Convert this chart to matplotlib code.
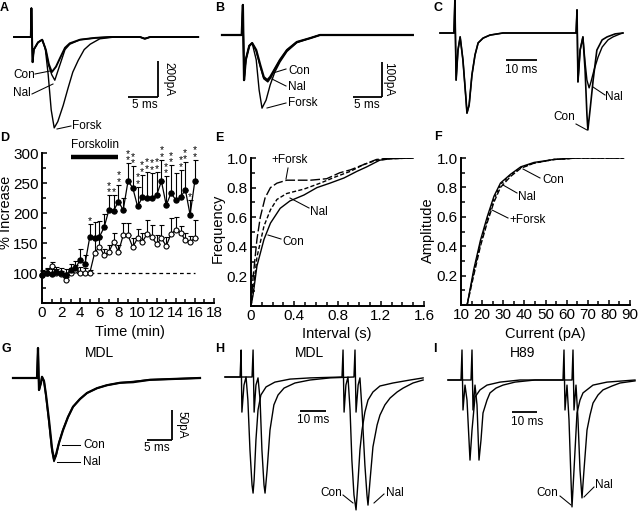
"""
Forskolin / naloxone EPSC figure - panels A-I
Traces in ms / pA, read off the published figure.
"""

import matplotlib
matplotlib.use('Agg')
import matplotlib.pyplot as plt
from matplotlib.lines import Line2D
from matplotlib.transforms import Affine2D
from matplotlib.ticker import MultipleLocator

plt.rcParams['font.family'] = ['Liberation Sans', 'DejaVu Sans']

W, H = 640, 511

# === A: evoked EPSCs, Con / Nal / Forsk ===
a_con_t = [0, 2.8, 2.9, 3.1, 3.3, 4.0, 4.7, 5.3, 5.8, 6.3, 7.0, 7.7, 8.5, 9.3, 11.0, 13.5, 16.0, 21.0, 21.8, 22.7, 30.7]
a_con_i = [0, 0, 160, -140, -70, -30, -15, -70, -150, -195, -165, -115, -60, -35, -15, -5, 0, 0, -10, 0, 0]
a_nal_t = [0, 2.8, 2.9, 3.1, 3.3, 4.0, 4.7, 5.3, 5.8, 6.3, 6.8, 7.3, 8.0, 8.5, 9.3, 11.0, 13.5, 16.0, 21.0, 21.8, 22.7, 30.7]
a_nal_i = [0, 0, 160, -140, -70, -30, -15, -75, -160, -210, -240, -190, -120, -70, -40, -15, -5, 0, 0, -8, 0, 0]
a_fsk_t = [0, 2.8, 2.9, 3.1, 3.3, 4.0, 4.7, 5.2, 5.7, 6.2, 6.7, 7.3, 8.2, 9.0, 9.8, 10.7, 11.7, 12.7, 14.3, 16.8, 21.0, 21.8, 22.7, 30.7]
a_fsk_i = [0, 0, 160, -140, -70, -30, -15, -60, -210, -405, -505, -470, -380, -285, -195, -130, -70, -40, -10, 0, 0, -10, 0, 0]

# === B ===
b_con_t = [0, 3.4, 3.6, 3.8, 4.1, 4.7, 5.2, 5.9, 6.6, 7.2, 7.8, 8.3, 9.0, 10.0, 11.2, 12.9, 15.2, 16.9, 32.9]
b_con_i = [0, 0, 86, -129, -71, -31, -23, -43, -86, -120, -129, -120, -100, -71, -43, -20, -9, 0, 0]
b_nal_t = [0, 3.4, 3.6, 3.8, 4.1, 4.7, 5.2, 5.9, 6.6, 7.2, 7.9, 8.5, 9.0, 10.0, 11.2, 12.9, 15.2, 16.9, 32.9]
b_nal_i = [0, 0, 86, -129, -71, -31, -23, -45, -90, -125, -134, -120, -100, -71, -43, -20, -9, 0, 0]
b_fsk_t = [0, 3.4, 3.6, 3.8, 4.1, 4.7, 5.2, 5.9, 6.4, 6.9, 7.6, 8.3, 9.1, 10.0, 11.2, 12.9, 15.2, 16.9, 32.9]
b_fsk_i = [0, 0, 86, -129, -71, -31, -23, -71, -157, -209, -186, -143, -106, -77, -47, -22, -9, 0, 0]

# === C: paired pulse ===
c_con_t = [0, 4.5, 4.8, 5.2, 5.8, 6.5, 7.4, 8.4, 8.7, 9.4, 10.3, 11.3, 12.3, 13.9, 16.1, 20.3,
           43.9, 44.2, 44.5, 45.2, 46.1, 46.8, 47.4, 47.7, 48.4, 49.4, 50.6, 52.3, 53.9, 56.5, 59.0]
c_con_i = [0, 0, 110, -157, -57, -13, -90, -223, -267, -240, -140, -73, -33, -17, -7, 0,
           0, 77, -163, -57, -13, -123, -273, -323, -257, -157, -57, -23, -13, -3, 0]
c_nal_t = [0, 4.5, 4.8, 5.2, 5.8, 6.5, 7.4, 8.4, 8.7, 9.4, 10.3, 11.3, 12.3, 13.9, 16.1, 20.3,
           43.9, 44.2, 44.5, 45.2, 46.1, 46.8, 47.4, 48.1, 48.7, 49.7, 51.0, 52.3, 54.2, 55.8, 58.1, 59.0]
c_nal_i = [0, 0, 110, -157, -57, -13, -90, -223, -267, -240, -140, -73, -33, -17, -7, 0,
           0, 77, -163, -57, -13, -97, -157, -183, -163, -123, -80, -47, -23, -13, -3, 0]

# === D: time course (% increase) ===
d_time = [0, 0.5, 1, 1.5, 2, 2.5, 3, 3.5, 4, 4.5, 5, 5.5, 6, 6.5, 7, 7.5, 8, 8.5,
          9, 9.5, 10, 10.5, 11, 11.5, 12, 12.5, 13, 13.5, 14, 14.5, 15, 15.5, 16]
d_fsk = [97, 100, 98, 102, 100, 97, 105, 108, 122, 115, 160, 158, 160, 176, 205, 204, 219, 205,
         253, 242, 211, 226, 225, 225, 230, 253, 213, 233, 222, 226, 239, 197, 254]
d_fsk_err = [8, 8, 8, 8, 8, 10, 10, 12, 18, 15, 22, 27, 27, 22, 25, 26, 28, 20,
             30, 36, 33, 38, 44, 42, 39, 36, 48, 47, 45, 46, 46, 25, 35]
d_nal = [97, 100, 112, 100, 98, 88, 100, 105, 100, 100, 100, 133, 144, 130, 135, 152, 135, 163,
         163, 143, 158, 152, 165, 160, 148, 158, 145, 165, 172, 167, 155, 152, 158]
d_nal_err = [6, 6, 6, 6, 6, 6, 8, 8, 10, 8, 5, 22, 17, 10, 12, 15, 12, 20,
             20, 15, 16, 15, 23, 20, 15, 22, 15, 26, 22, 12, 12, 10, 30]
d_stars = ['', '', '', '', '', '', '', '', '', '', '*', '', '', '', '**', '*', '**', '',
           '**', '**', '**', '**', '**', '**', '**', '**', '**', '**', '', '**', '**', '*', '**']
forskolin_on = [3, 8]

# === E: cumulative inter-event interval ===
e_fsk_x = [0, 0.02, 0.055, 0.086, 0.13, 0.18, 0.24, 0.33, 0.55, 0.7, 0.82, 0.92, 1.04, 1.16, 1.29, 1.5]
e_fsk_y = [0, 0.2, 0.45, 0.6, 0.73, 0.8, 0.83, 0.85, 0.85, 0.86, 0.9, 0.92, 0.955, 0.99, 1.0, 1.0]
e_nal_x = [0, 0.02, 0.055, 0.12, 0.18, 0.24, 0.33, 0.49, 0.64, 0.79, 0.92, 1.04, 1.16, 1.29, 1.5]
e_nal_y = [0, 0.1, 0.33, 0.54, 0.65, 0.72, 0.76, 0.79, 0.83, 0.875, 0.91, 0.955, 0.985, 0.995, 1.0]
e_con_x = [0, 0.02, 0.055, 0.12, 0.18, 0.27, 0.36, 0.49, 0.61, 0.73, 0.86, 0.98, 1.07, 1.19, 1.29, 1.5]
e_con_y = [0, 0.08, 0.27, 0.45, 0.56, 0.66, 0.71, 0.75, 0.8, 0.83, 0.865, 0.91, 0.94, 0.985, 0.995, 1.0]

# === F: cumulative amplitude ===
f_x = [12.9, 16, 19.2, 22.4, 25.6, 28.7, 33.5, 38.3, 44.6, 54, 65, 87]
f_con_y = [0, 0.24, 0.44, 0.6, 0.74, 0.83, 0.89, 0.94, 0.97, 0.99, 1.0, 1.0]
f_nal_y = [0, 0.22, 0.42, 0.58, 0.72, 0.82, 0.885, 0.935, 0.965, 0.99, 1.0, 1.0]
f_fsk_y = [0, 0.2, 0.4, 0.56, 0.7, 0.8, 0.875, 0.93, 0.965, 0.99, 1.0, 1.0]

# === G: MDL ===
g_t = [0, 4.8, 5.0, 5.2, 5.6, 5.8, 6.2, 6.6, 7.2, 7.8, 8.2, 8.6, 9.2, 10.0, 11.0, 12.0, 13.4, 14.8,
       16.8, 18.8, 21.4, 24.0, 27.4, 30.8, 37.4]
g_con_i = [0, 0, 50, -20, -8, 2, -5, -28, -70, -117, -135, -128, -108, -87, -65, -48, -35, -25,
           -17, -12, -8, -7, -3, -2, 0]
g_nal_i = [0, 0, 50, -20, -8, 2, -5, -30, -74, -122, -139, -130, -108, -86, -65, -48, -35, -25,
           -17, -12, -8, -6, -3, -2, 0]

# === H: MDL paired pulse ===
h_con_t = [0, 5.8, 6.2, 6.5, 7.3, 8.1, 8.8, 9.6, 10.4, 10.8, 11.2, 11.9, 12.7, 13.8, 15.8, 19.2, 25.0, 32.7,
           45.0, 45.4, 45.8, 46.5, 47.3, 48.1, 48.8, 49.6, 50.4, 51.2, 51.9, 52.7, 53.8, 55.0, 56.9, 59.6, 64.6, 71.2, 76.2]
h_con_i = [0, 0, 90, -117, -27, 0, -77, -243, -360, -387, -343, -210, -110, -60, -33, -17, -7, -3,
           0, 90, -117, -27, 0, -110, -277, -393, -443, -343, -243, -177, -117, -77, -50, -30, -20, -10, -3]
h_nal_t = [0, 10.4, 10.8, 11.2, 11.9, 12.7, 13.5, 14.2, 15.0, 15.4, 16.2, 17.3, 18.8, 20.4, 22.7, 26.9, 32.7, 40.4,
           49.6, 50.0, 50.4, 51.2, 51.9, 52.7, 53.8, 54.6, 55.0, 55.8, 56.9, 58.5, 59.6, 61.5, 63.5, 66.2, 68.5, 72.3, 76.2]
h_nal_i = [0, 0, 90, -117, -27, -3, -77, -243, -360, -387, -310, -177, -93, -60, -37, -20, -10, -3,
           0, 90, -117, -27, -3, -110, -293, -393, -427, -343, -233, -160, -127, -93, -70, -50, -37, -20, -10]

# === I: H89 paired pulse ===
i_con_t = [0, 5.2, 5.6, 6.0, 6.8, 7.6, 8.4, 8.8, 9.6, 10.8, 12.8, 15.6, 20.8, 28.8,
           46.0, 46.4, 46.8, 47.6, 48.4, 49.2, 49.6, 50.4, 51.6, 52.8, 54.0, 58.0, 63.6, 74.8]
i_con_i = [0, 0, 100, -100, -17, -67, -200, -267, -167, -57, -33, -17, -7, 0,
           0, 100, -100, -17, -133, -333, -423, -300, -110, -67, -43, -17, -7, 0]
i_nal_t = [0, 9.2, 9.6, 10.0, 10.8, 11.6, 12.4, 13.2, 14.0, 15.6, 16.8, 19.2, 22.0, 26.8, 34.8,
           49.6, 50.0, 50.4, 51.2, 52.0, 52.8, 53.6, 54.4, 55.6, 56.8, 58.0, 60.0, 62.0, 65.6, 68.8, 74.8]
i_nal_i = [0, 0, 100, -100, -17, -83, -267, -200, -110, -67, -43, -27, -17, -7, 0,
           0, 100, -100, -17, -133, -300, -393, -300, -167, -117, -77, -50, -33, -20, -10, -3]


fig = plt.figure(figsize=(W / 100, H / 100), dpi=100)
# pixel coordinates, origin top-left (used for labels / leaders only)
PX = Affine2D().scale(1 / W, -1 / H).translate(0, 1) + fig.transFigure

LBL = 8.5
TICK = 11
AXLBL = 10.5


def axes_px(x0, y0, x1, y1):
    return fig.add_axes([x0 / W, 1 - y1 / H, (x1 - x0) / W, (y1 - y0) / H])


def trace_axes(box, t0_px, base_px, px_ms, px_pa):
    x0, y0, x1, y1 = box
    ax = axes_px(*box)
    ax.set_xlim((x0 - t0_px) / px_ms, (x1 - t0_px) / px_ms)
    ax.set_ylim(-(y1 - base_px) / px_pa, -(y0 - base_px) / px_pa)
    ax.axis('off')
    return ax


def trace(ax, t, i, lw=1.0):
    ax.plot(t, i, color='k', lw=lw, clip_on=False, solid_joinstyle='round')


def scalebar(ax, t_right, i_bottom, dt, di=None):
    ax.plot([t_right - dt, t_right], [i_bottom, i_bottom], color='k', lw=1.3,
            solid_capstyle='butt', clip_on=False)
    if di:
        ax.plot([t_right, t_right], [i_bottom, i_bottom + di], color='k', lw=1.3,
                solid_capstyle='butt', clip_on=False)


def text(x, y, s, size=LBL, **kw):
    kw.setdefault('va', 'center')
    fig.text(x, y, s, transform=PX, fontsize=size, **kw)


def leader(x0, y0, x1, y1):
    fig.add_artist(Line2D([x0, x1], [y0, y1], transform=PX, color='k', lw=0.75))


def style_axes(ax):
    for side in ('top', 'right'):
        ax.spines[side].set_visible(False)
    for side in ('left', 'bottom'):
        ax.spines[side].set_linewidth(1.4)
    ax.tick_params(which='both', direction='in', width=1.1, labelsize=TICK, pad=2.5)
    ax.tick_params(which='major', length=3.5)
    ax.tick_params(which='minor', length=3)


# ---- panel letters ----
for s, x, y in [('A', 0, 8), ('B', 215, 8), ('C', 434, 8), ('D', 0, 138), ('E', 215, 138),
                ('F', 434, 137), ('G', 2, 349), ('H', 215, 349), ('I', 433, 349)]:
    text(x, y, s, size=9, weight='bold')

# ---- A ----
ax = trace_axes((10, 0, 205, 135), 14, 37, 6.0, 0.18)
trace(ax, a_fsk_t, a_fsk_i)
trace(ax, a_nal_t, a_nal_i)
trace(ax, a_con_t, a_con_i, lw=1.4)
scalebar(ax, 24, -333, 5, 200)
text(145, 105, '5 ms', ha='center')
text(168, 79, '200pA', ha='center', rotation=-90)
text(13, 75, 'Con')
leader(35, 74, 50, 71)
text(13, 93, 'Nal')
leader(32, 94, 53, 84)
text(72, 126, 'Forsk')
leader(71, 126, 57, 129)

# ---- B ----
ax = trace_axes((215, 0, 420, 135), 222, 35, 5.8, 0.35)
trace(ax, b_fsk_t, b_fsk_i)
trace(ax, b_nal_t, b_nal_i)
trace(ax, b_con_t, b_con_i, lw=1.6)
scalebar(ax, 27.6, -177, 5, 100)
text(367, 105, '5 ms', ha='center')
text(388, 79, '100pA', ha='center', rotation=-90)
text(288, 71, 'Con')
leader(286, 69, 273, 73)
text(288, 87, 'Nal')
leader(286, 86, 272, 79)
text(288, 103, 'Forsk')
leader(286, 103, 267, 108)

# ---- C ----
ax = trace_axes((432, 0, 630, 135), 440, 33, 3.1, 0.3)
trace(ax, c_nal_t, c_nal_i)
trace(ax, c_con_t, c_con_i, lw=1.2)
scalebar(ax, 31.3, -90, 10)
text(521, 70, '10 ms', ha='center')
text(605, 97, 'Nal')
leader(605, 95, 593, 87)
text(575, 117, 'Con', ha='right')
leader(576, 124, 587, 130)

# ---- D ----
ax = axes_px(42, 153, 214, 303)
style_axes(ax)
ax.axhline(100, xmin=0, xmax=16 / 18, color='k', lw=0.9, ls=(0, (3, 2.5)), zorder=1)
ax.errorbar(d_time, d_nal, yerr=[[0] * len(d_nal_err), d_nal_err], fmt='-o', color='k',
            mfc='white', mec='k', ms=3.6, mew=0.8, lw=0.9, elinewidth=0.8, capsize=1.8,
            capthick=0.8, clip_on=False, zorder=3)
ax.errorbar(d_time, d_fsk, yerr=[[0] * len(d_fsk_err), d_fsk_err], fmt='-o', color='k',
            mfc='k', mec='k', ms=3.6, lw=0.9, elinewidth=0.8, capsize=1.8, capthick=0.8,
            clip_on=False, zorder=4)
for t, v, e, s in zip(d_time, d_fsk, d_fsk_err, d_stars):
    if s:
        ax.annotate('\n'.join(s), (t, v + e), xytext=(0, -1.5), textcoords='offset points',
                    ha='center', va='bottom', fontsize=7.5, linespacing=0.55)
ax.plot(forskolin_on, [293, 293], color='k', lw=3.2, solid_capstyle='butt', clip_on=False)
ax.text(sum(forskolin_on) / 2, 304, 'Forskolin', ha='center', va='bottom', fontsize=LBL)
ax.set_xlim(0, 18)
ax.set_ylim(50, 300)
ax.set_xticks(range(0, 19, 2))
ax.xaxis.set_minor_locator(MultipleLocator(1))
ax.set_yticks([100, 150, 200, 250, 300])
ax.yaxis.set_minor_locator(MultipleLocator(25))
text(130, 332, 'Time (min)', size=AXLBL, ha='center')
text(6, 212, '% Increase', size=AXLBL, ha='center', rotation=90)

# ---- E ----
ax = axes_px(251, 158, 424, 306)
style_axes(ax)
ax.plot(e_con_x, e_con_y, color='k', lw=1.0)
ax.plot(e_nal_x, e_nal_y, color='k', lw=1.0, ls=(0, (3, 1.6)))
ax.plot(e_fsk_x, e_fsk_y, color='k', lw=1.0, ls=(0, (7, 2)))
ax.set_xlim(0, 1.6)
ax.set_ylim(0, 1.0)
ax.set_xticks([0, 0.4, 0.8, 1.2, 1.6])
ax.set_xticklabels(['0', '0.4', '0.8', '1.2', '1.6'])
ax.xaxis.set_minor_locator(MultipleLocator(0.1))
ax.set_yticks([0.2, 0.4, 0.6, 0.8, 1.0])
ax.yaxis.set_minor_locator(MultipleLocator(0.1))
text(337, 334, 'Interval (s)', size=AXLBL, ha='center')
text(218, 228, 'Frequency', size=AXLBL, ha='center', rotation=90)
text(271, 160, '+Forsk')
leader(288, 168, 286, 179)
text(310, 212, 'Nal')
leader(309, 208, 290, 198)
text(282, 242, 'Con')
leader(281, 239, 268, 235)

# ---- F ----
ax = axes_px(461, 158, 630, 305)
style_axes(ax)
ax.plot(f_x, f_fsk_y, color='k', lw=1.0, ls=(0, (4, 1.5)))
ax.plot(f_x, f_nal_y, color='k', lw=1.0, ls=(0, (2, 1.5)))
ax.plot(f_x, f_con_y, color='k', lw=1.0)
ax.set_xlim(10, 90)
ax.set_ylim(0, 1.0)
ax.set_xticks(range(10, 91, 10))
ax.xaxis.set_minor_locator(MultipleLocator(5))
ax.set_yticks([0.2, 0.4, 0.6, 0.8, 1.0])
ax.yaxis.set_minor_locator(MultipleLocator(0.1))
text(545, 334, 'Current (pA)', size=AXLBL, ha='center')
text(428, 230, 'Amplitude', size=AXLBL, ha='center', rotation=90)
text(542, 180, 'Con')
leader(540, 178, 523, 169)
text(518, 197, 'Nal')
leader(517, 193, 503, 185)
text(509, 220, '+Forsk')
leader(508, 218, 492, 210)

# ---- G ----
ax = trace_axes((10, 340, 205, 500), 13, 378, 5.0, 0.6)
trace(ax, g_t, g_nal_i, lw=1.2)
trace(ax, g_t, g_con_i, lw=1.6)
scalebar(ax, 31.8, -103, 5, 50)
text(157, 448, '5 ms', ha='center')
text(181, 425, '50pA', ha='center', rotation=-90)
text(99, 353, 'MDL', size=10, ha='center')
text(83, 445, 'Con')
leader(80, 445, 62, 445)
text(83, 462, 'Nal')
leader(80, 462, 57, 462)

# ---- H ----
ax = trace_axes((220, 340, 428, 511), 225, 377, 2.6, 0.3)
trace(ax, h_nal_t, h_nal_i)
trace(ax, h_con_t, h_con_i)
scalebar(ax, 38.8, -113, 10)
text(313, 420, '10 ms', ha='center')
text(310, 353, 'MDL', size=10, ha='center')
text(342, 493, 'Con', ha='right')
leader(343, 495, 353, 503)
text(386, 493, 'Nal')
leader(384, 494, 374, 503)

# ---- I ----
ax = trace_axes((440, 340, 640, 511), 448, 380, 2.5, 0.3)
trace(ax, i_nal_t, i_nal_i)
trace(ax, i_con_t, i_con_i)
scalebar(ax, 35.6, -107, 10)
text(527, 422, '10 ms', ha='center')
text(523, 353, 'H89', size=10, ha='center')
text(558, 493, 'Con', ha='right')
leader(560, 496, 571, 505)
text(595, 485, 'Nal')
leader(594, 487, 584, 497)

fig.savefig('out.png', dpi=100, facecolor='white')
